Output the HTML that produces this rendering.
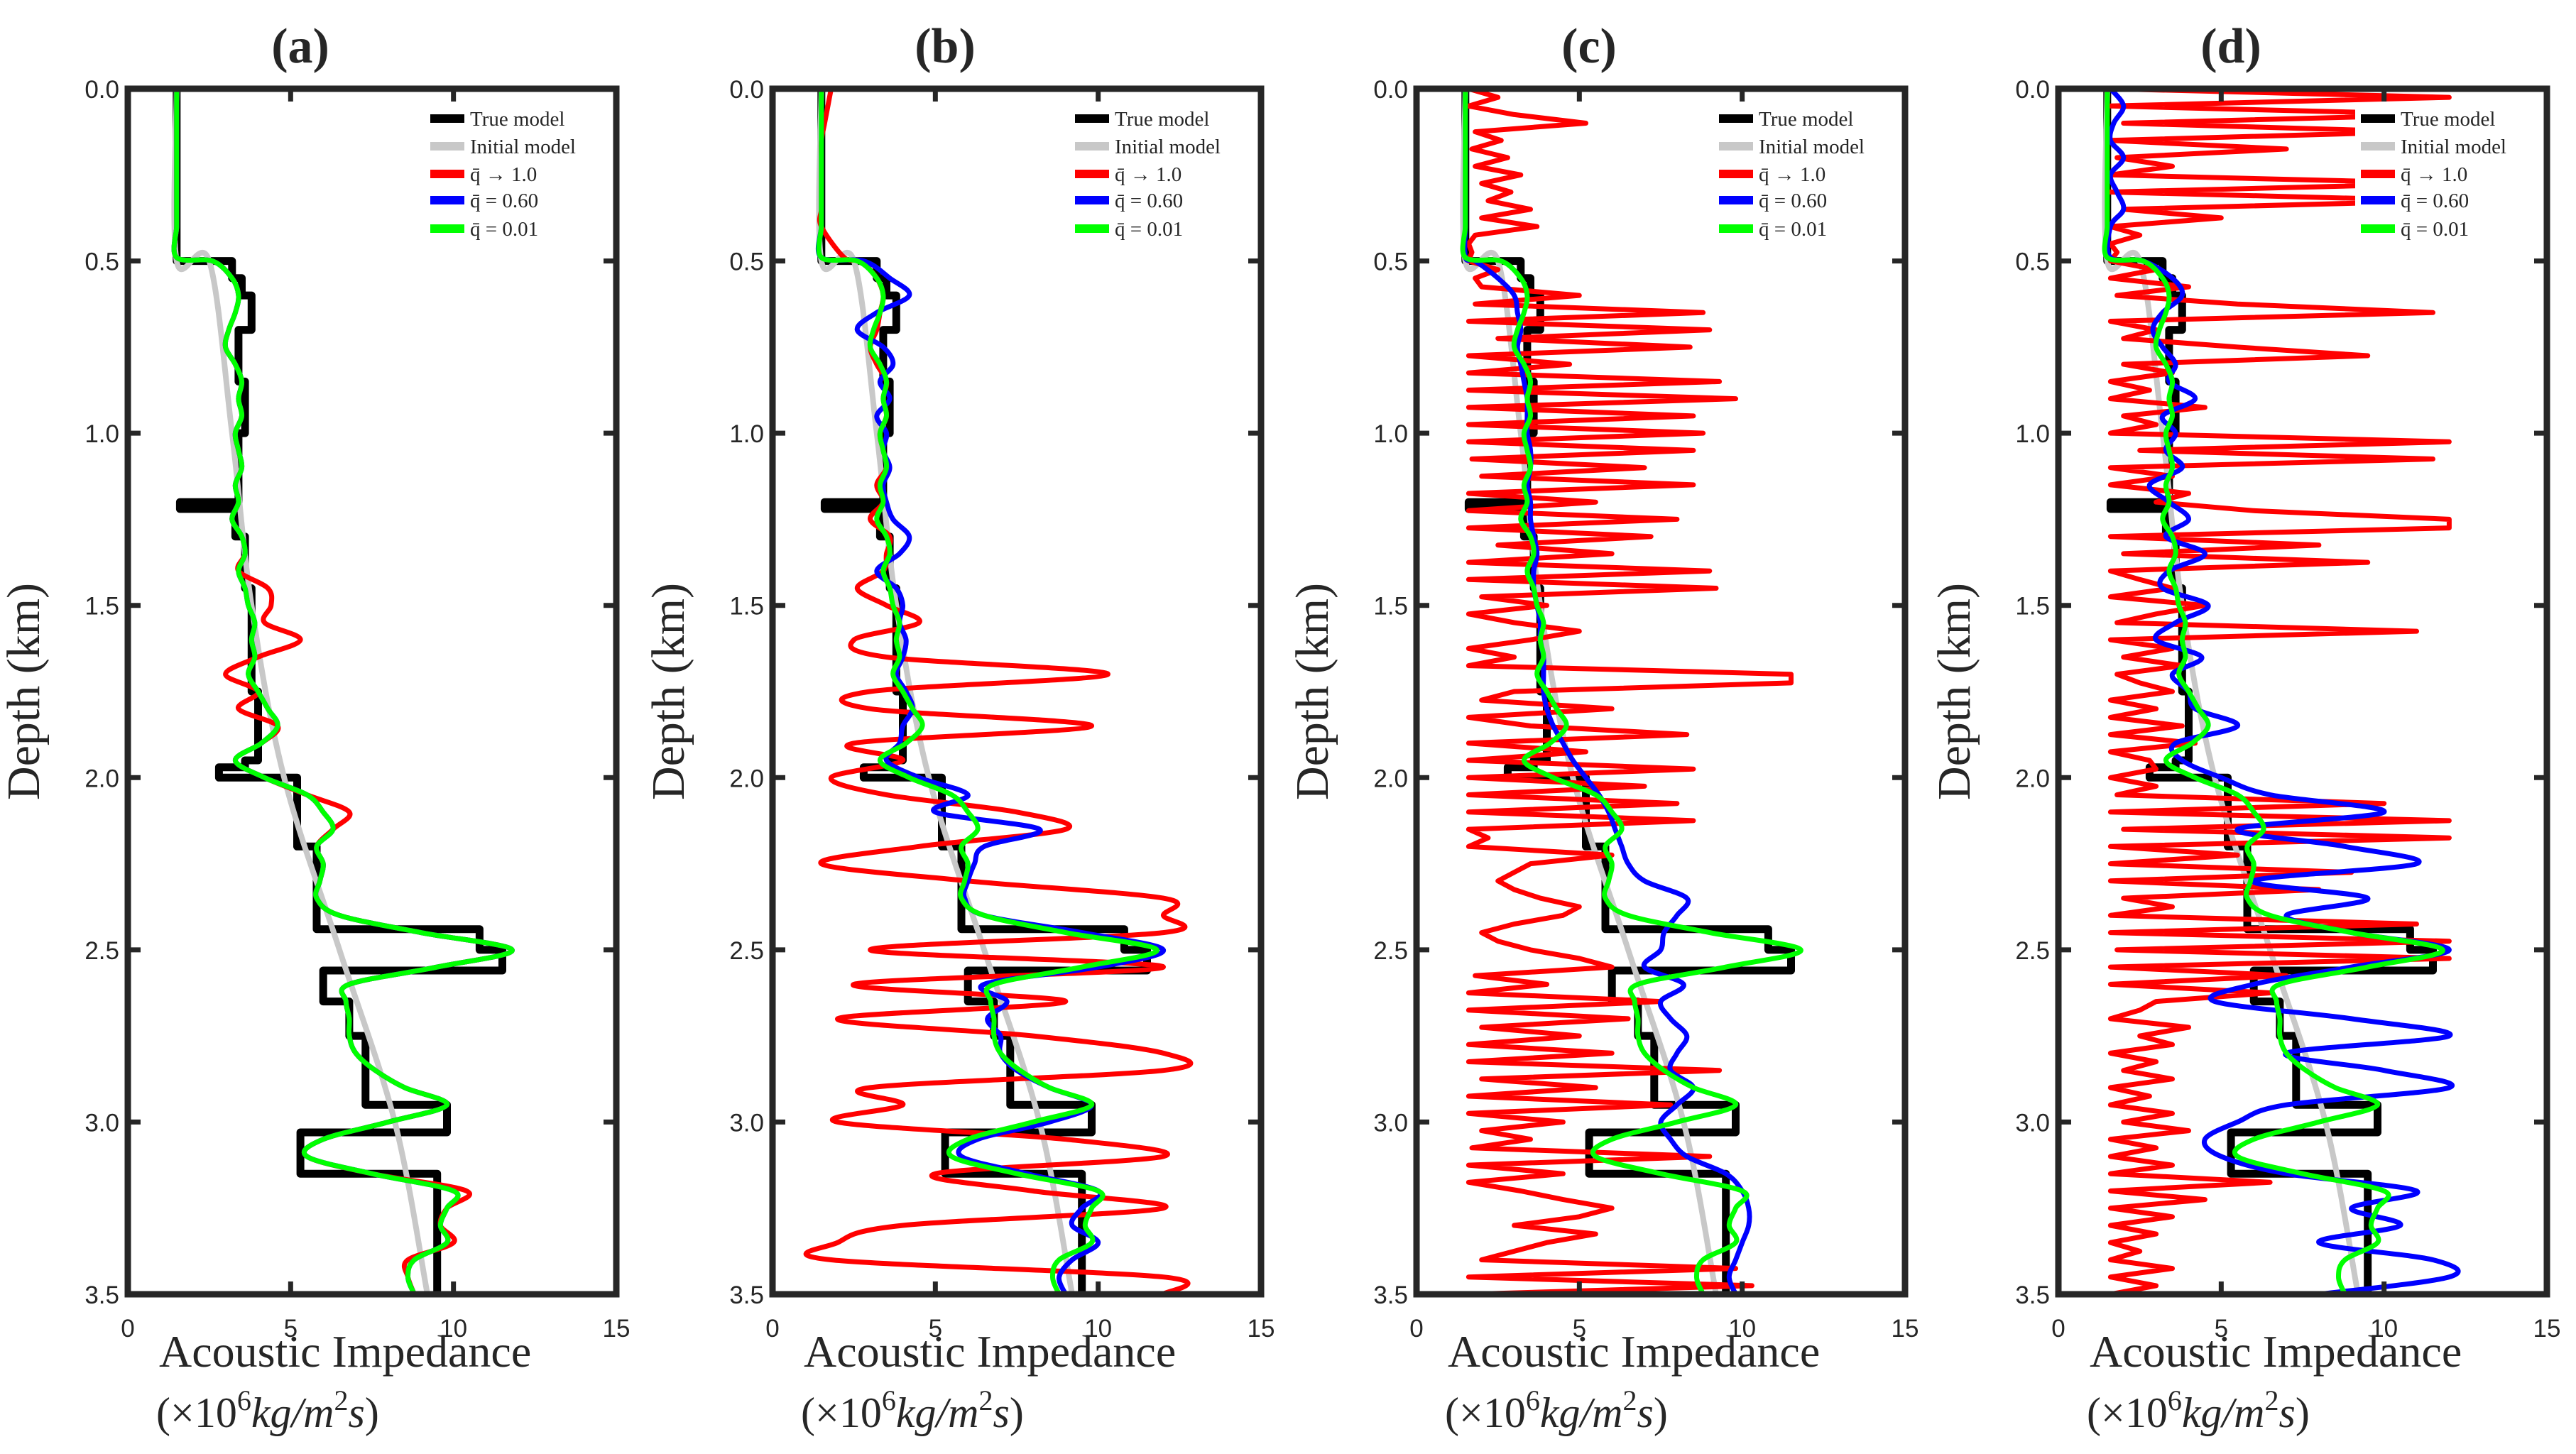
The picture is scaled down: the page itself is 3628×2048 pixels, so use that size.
<!DOCTYPE html>
<html><head><meta charset="utf-8">
<style>
html,body{margin:0;padding:0;background:#fff;}
svg{display:block;}
.tick{font-family:"Liberation Sans",sans-serif;font-size:35px;fill:#262626;}
.lab{font-family:"Liberation Serif",serif;fill:#262626;}
</style></head>
<body>
<svg id="fig" width="3628" height="2048" viewBox="0 0 3628 2048" xmlns="http://www.w3.org/2000/svg"></svg>
<script>
const depths=[0,0.05,0.1,0.15,0.2,0.25,0.3,0.35,0.4,0.49,0.5,0.55,0.6,0.65,0.7,0.75,0.8,0.85,0.9,0.95,1.0,1.05,1.1,1.15,1.2,1.25,1.3,1.35,1.4,1.45,1.5,1.55,1.6,1.65,1.7,1.75,1.8,1.85,1.9,1.95,2.0,2.05,2.1,2.15,2.2,2.25,2.3,2.35,2.4,2.45,2.5,2.55,2.6,2.65,2.7,2.75,2.8,2.85,2.9,2.95,3.0,3.05,3.1,3.15,3.2,3.25,3.3,3.35,3.4,3.45,3.5];
const trueTops=[0,0.5,0.55,0.6,0.7,0.85,1.0,1.2,1.22,1.3,1.45,1.75,1.95,1.97,2.0,2.2,2.44,2.5,2.56,2.65,2.75,2.95,3.03,3.15,3.5];
const trueVals=[1.5,3.2,3.5,3.8,3.4,3.6,3.4,1.6,3.3,3.6,3.8,4.0,3.6,2.8,5.2,5.8,10.8,11.5,6.0,6.8,7.3,9.8,5.3,9.5];
const initDepths=[0,0.5,0.5,1.0,1.5,2.0,2.5,3.0,3.5];
const initVals=[1.5,1.5,2.5,3.2,3.8,4.8,6.5,8.2,9.2];
const greenA=[1.5,1.5,1.5,1.5,1.5,1.5,1.5,1.5,1.5,1.5,
2.6,3.2,3.4,3.3,3.1,3.0,3.3,3.5,3.4,3.5,
3.3,3.4,3.5,3.3,3.4,3.2,3.5,3.6,3.4,3.6,
3.7,3.9,3.8,3.9,3.7,4.0,4.3,4.6,4.1,3.3,
4.2,5.5,6.0,6.3,5.8,6.0,5.9,5.8,6.5,9.0,
11.8,9.5,6.8,6.7,6.8,6.8,7.0,7.6,8.5,9.8,
8.0,6.0,5.5,7.5,10.0,9.8,9.6,9.8,8.8,8.6,8.8];
const redA=[1.5,1.5,1.5,1.5,1.5,1.5,1.5,1.5,1.5,1.5,
2.6,3.2,3.4,3.3,3.1,3.0,3.3,3.5,3.4,3.5,
3.3,3.4,3.5,3.3,3.4,3.2,3.5,3.6,3.4,4.3,
4.4,4.2,5.3,4.0,3.0,4.0,3.4,4.6,4.1,3.3,
4.2,5.5,6.8,6.3,5.8,6.0,5.9,5.8,6.5,9.0,
11.8,9.5,6.8,6.7,6.8,6.8,7.0,7.6,8.5,9.8,
8.0,6.0,5.5,7.5,10.4,9.8,9.6,10.0,8.6,8.6,8.8];
const blueB=[1.5,1.5,1.5,1.5,1.5,1.5,1.5,1.5,1.5,1.5,
2.8,3.6,4.2,3.2,2.6,3.4,3.7,3.3,3.6,3.2,
3.5,3.4,3.6,3.4,3.5,3.7,4.2,3.9,3.2,3.8,
4.0,3.9,4.1,4.0,3.8,4.1,4.3,4.0,3.9,3.5,
4.5,6.0,5.0,8.2,6.5,6.2,6.0,5.9,6.5,9.5,
12.0,10.0,6.5,7.2,6.6,7.0,7.0,7.5,8.5,9.8,
8.5,6.3,5.8,7.8,10.0,9.5,9.2,10.0,9.2,8.8,9.0];
const redB=[1.8,1.7,1.6,1.5,1.5,1.5,1.5,1.5,1.5,2.2,
2.7,3.2,3.4,3.3,3.2,3.0,3.2,3.5,3.4,3.5,
3.3,3.4,3.5,3.2,3.4,3.0,3.6,3.5,3.4,2.6,
3.5,4.5,2.5,3.5,10.3,3.0,3.0,9.8,2.5,4.0,
1.8,3.5,7.5,9.0,4.5,1.5,6.0,12.0,12.0,12.0,
3.0,12.0,2.5,9.0,2.0,8.0,12.0,12.0,3.0,4.0,
2.0,9.0,12.0,5.0,8.0,12.0,4.0,2.0,1.8,12.0,12.0];
const blueC=[1.5,1.5,1.5,1.5,1.5,1.5,1.5,1.5,1.5,1.5,
1.8,2.5,3.0,3.1,3.2,3.1,3.2,3.3,3.4,3.4,
3.4,3.5,3.5,3.4,3.5,3.5,3.6,3.7,3.6,3.6,
3.7,3.8,3.8,3.9,3.9,3.9,4.0,4.2,4.5,4.8,
5.2,5.6,5.9,6.1,6.3,6.5,7.0,8.3,8.0,7.6,
7.5,7.0,8.2,7.5,7.8,8.3,8.0,7.8,8.5,8.0,
7.5,7.8,8.3,9.5,10.0,10.2,10.2,10.0,9.8,9.6,9.8];
const blueD=[1.6,2.0,1.7,1.6,2.0,1.6,1.8,2.0,1.6,1.6,
2.6,3.5,3.8,3.2,2.9,3.2,3.6,3.4,4.2,3.2,
3.6,3.3,3.8,2.8,3.4,4.0,3.3,4.5,3.4,3.2,
4.6,3.6,3.0,4.4,3.5,4.0,4.2,5.5,3.6,3.8,
5.0,6.5,10.0,5.5,8.8,11.0,6.0,9.5,7.0,9.0,
12.0,9.0,6.0,4.8,9.0,12.0,7.0,10.0,12.0,7.0,
5.5,4.5,5.0,7.0,11.0,9.0,10.5,8.0,11.5,12.0,8.0];
const fineDepths=[];for(let i=0;i<=140;i++)fineDepths.push(+(i*0.025).toFixed(3));
const redC=[1.6,2.5,1.6,3.0,5.2,1.8,2.6,1.7,2.8,1.8,3.2,2.0,2.9,2.2,3.5,2.0,3.7,1.8,1.6,1.7,
1.6,2.5,1.8,2.0,5.0,1.8,8.8,1.6,9.0,2.5,8.4,1.6,4.7,1.6,9.3,1.6,9.8,1.6,8.5,1.6,
8.8,1.6,8.5,1.7,7.0,2.0,8.5,1.6,5.5,1.6,8.0,1.6,7.2,2.5,6.0,1.6,9.0,1.6,9.2,2.0,
4.0,1.6,3.0,5.0,3.5,1.6,3.0,1.6,11.5,11.5,3.0,2.0,6.0,1.6,3.5,8.3,1.6,5.2,1.6,8.5,
1.6,7.0,1.6,8.0,1.6,8.5,1.6,2.2,1.6,6.0,3.5,3.0,2.5,3.0,3.8,5.0,4.5,3.0,2.0,2.5,
3.5,5.0,6.0,1.8,4.0,1.6,7.5,1.6,6.5,2.0,5.0,1.6,6.0,1.6,9.3,2.0,5.5,1.6,7.8,1.6,
4.5,2.0,3.5,1.7,9.0,1.6,4.5,1.6,3.2,4.5,6.0,5.0,3.0,5.5,4.0,3.0,2.0,9.8,1.6,10.3,1.6];
const redD=[1.6,12,1.6,12,2.0,11,1.6,7,1.8,3.5,1.6,12,1.6,12,2.0,5,1.6,2.5,1.6,1.8,
1.6,3,1.6,4,1.8,5.5,11.5,1.6,3,2.0,5.5,9.5,2.0,3.5,1.6,2.8,1.6,4.5,2.0,3.0,
1.6,12,2.5,11.5,1.6,3.5,1.6,4,3,6,12,12,1.6,8,2.0,9.5,1.6,2.5,3.5,1.6,
4.5,3,1.8,11,1.6,3.5,2.0,3.8,1.8,2.5,3.5,1.6,3.0,1.6,3.8,1.6,4.2,1.6,2.8,3.0,
1.6,3.0,1.8,10,1.6,12,2.0,12,1.6,5.5,1.6,9,1.6,8,2.0,3.5,1.6,11,1.6,12,
1.8,12,1.6,7,1.6,6.5,3,2.5,1.6,4,2.5,3.5,1.6,3.0,2.0,3.5,1.6,2.8,1.6,3.5,
2.0,4.0,1.6,3.0,1.6,3.5,1.6,6.5,1.6,4.5,1.6,3.5,1.6,3.0,1.6,2.5,1.6,3.5,1.6,3.0,1.6];
const panels=[
 {label:'(a)',L:180,red:redA,redD:depths,redSmooth:true,blue:greenA,green:greenA},
 {label:'(b)',L:1088,red:redB,redD:depths,redSmooth:true,blue:blueB,green:greenA},
 {label:'(c)',L:1995,red:redC,redD:fineDepths,redSmooth:false,blue:blueC,green:greenA},
 {label:'(d)',L:2899,red:redD,redD:fineDepths,redSmooth:false,blue:blueD,green:greenA}
];
const W=688,T=125,H=1698,NS='http://www.w3.org/2000/svg';
const svg=document.getElementById('fig');
function mk(tag,attrs,parent,text){const e=document.createElementNS(NS,tag);for(const k in attrs)e.setAttribute(k,attrs[k]);if(text!==undefined)e.textContent=text;(parent||svg).appendChild(e);return e;}
function smoothPath(pts){let d='M'+pts[0][0].toFixed(1)+','+pts[0][1].toFixed(1);
 for(let i=0;i<pts.length-1;i++){const p0=pts[Math.max(0,i-1)],p1=pts[i],p2=pts[i+1],p3=pts[Math.min(pts.length-1,i+2)];
  const c1=[p1[0]+(p2[0]-p0[0])/6,p1[1]+(p2[1]-p0[1])/6],c2=[p2[0]-(p3[0]-p1[0])/6,p2[1]-(p3[1]-p1[1])/6];
  d+='C'+c1[0].toFixed(1)+','+c1[1].toFixed(1)+' '+c2[0].toFixed(1)+','+c2[1].toFixed(1)+' '+p2[0].toFixed(1)+','+p2[1].toFixed(1);}
 return d;}
function linePath(pts){return 'M'+pts.map(p=>p[0].toFixed(1)+','+p[1].toFixed(1)).join('L');}
panels.forEach((p,pi)=>{
 const g=mk('g',{});
 
 
 const xs=v=>p.L+v/15*W, ys=d=>T+d/3.5*H;
 const clipId='clip'+pi;
 const cp=mk('clipPath',{id:clipId},g);mk('rect',{x:p.L,y:T,width:W,height:H},cp);
 const plot=mk('g',{'clip-path':'url(#'+clipId+')'},g);
 let tp=[];for(let i=0;i<trueVals.length;i++){tp.push([xs(trueVals[i]),ys(trueTops[i])]);tp.push([xs(trueVals[i]),ys(trueTops[i+1])]);}
 const tl=mk('path',{d:linePath(tp),fill:'none',stroke:'#000','stroke-width':11,'stroke-linejoin':'round'},plot);
 
 
 const il=mk('path',{d:smoothPath(initVals.map((v,i)=>[xs(v),ys(initDepths[i])])),fill:'none',stroke:'#c8c8c8','stroke-width':8},plot);
 
 
 const rpts=p.red.map((v,i)=>[xs(v),ys(p.redD[i])]);
 const rl=mk('path',{d:p.redSmooth?smoothPath(rpts):linePath(rpts),fill:'none',stroke:'#ff0000','stroke-width':7,'stroke-linejoin':'round'},plot);
 
 
 const bl=mk('path',{d:smoothPath(p.blue.map((v,i)=>[xs(v),ys(depths[i])])),fill:'none',stroke:'#0000ff','stroke-width':7},plot);
 
 
 const gl=mk('path',{d:smoothPath(p.green.map((v,i)=>[xs(v),ys(depths[i])])),fill:'none',stroke:'#00ff00','stroke-width':7},plot);
 
 
 const lg=mk('g',{},g);
 
 
 mk('rect',{x:p.L+418,y:145,width:264,height:198,fill:'#fff'},lg);
 const items=[['True model','#000'],['Initial model','#c8c8c8'],['q̄ → 1.0','#ff0000'],['q̄ = 0.60','#0000ff'],['q̄ = 0.01','#00ff00']];
 const rows=[167,206,245,282,322];
 items.forEach((it,k)=>{
  const e=mk('g',{},lg);
  
  
  mk('line',{x1:p.L+426,x2:p.L+474,y1:rows[k],y2:rows[k],stroke:it[1],'stroke-width':12},e);
  mk('text',{x:p.L+482,y:rows[k]+10,class:'lab','font-size':29},e,it[0]);
 });
 const fr=mk('rect',{x:p.L,y:T,width:W,height:H,fill:'none',stroke:'#262626','stroke-width':9},g);
 
 
 [0,5,10,15].forEach(v=>{
  mk('line',{x1:xs(v),x2:xs(v),y1:T,y2:T+18,stroke:'#262626','stroke-width':7},g);
  mk('line',{x1:xs(v),x2:xs(v),y1:T+H,y2:T+H-18,stroke:'#262626','stroke-width':7},g);
  const t=mk('text',{x:xs(v),y:T+H+60,'text-anchor':'middle',class:'tick'},g,String(v));
  
  
 });
 [0,0.5,1,1.5,2,2.5,3,3.5].forEach(d=>{
  mk('line',{x1:p.L,x2:p.L+18,y1:ys(d),y2:ys(d),stroke:'#262626','stroke-width':7},g);
  mk('line',{x1:p.L+W,x2:p.L+W-18,y1:ys(d),y2:ys(d),stroke:'#262626','stroke-width':7},g);
  const t=mk('text',{x:p.L-12,y:ys(d)+13,'text-anchor':'end',class:'tick'},g,d.toFixed(1));
  
  
 });
 const ti=mk('text',{x:p.L+243,y:88,'text-anchor':'middle',class:'lab','font-size':70,'font-weight':'bold'},g,p.label);
 
 
 const yl=mk('text',{x:0,y:0,'text-anchor':'middle',class:'lab','font-size':66,transform:'translate('+(p.L-125)+','+(T+H/2)+') rotate(-90)'},g,'Depth (km)');
 
 
 const xl=mk('text',{x:p.L+44,y:1925,class:'lab','font-size':64},g,'Acoustic Impedance');
 
 
 const xu=mk('text',{x:p.L+40,y:2010,class:'lab','font-size':60,'font-style':'italic'},g);
 
 
 mk('tspan',{'font-style':'normal'},xu,'(×10');
 mk('tspan',{'font-style':'normal','font-size':40,dy:-24},xu,'6');
 mk('tspan',{dy:24},xu,'kg/m');
 mk('tspan',{'font-size':40,dy:-24,'font-style':'normal'},xu,'2');
 mk('tspan',{dy:24},xu,'s');
 mk('tspan',{'font-style':'normal'},xu,')');
});
</script>
</body></html>
